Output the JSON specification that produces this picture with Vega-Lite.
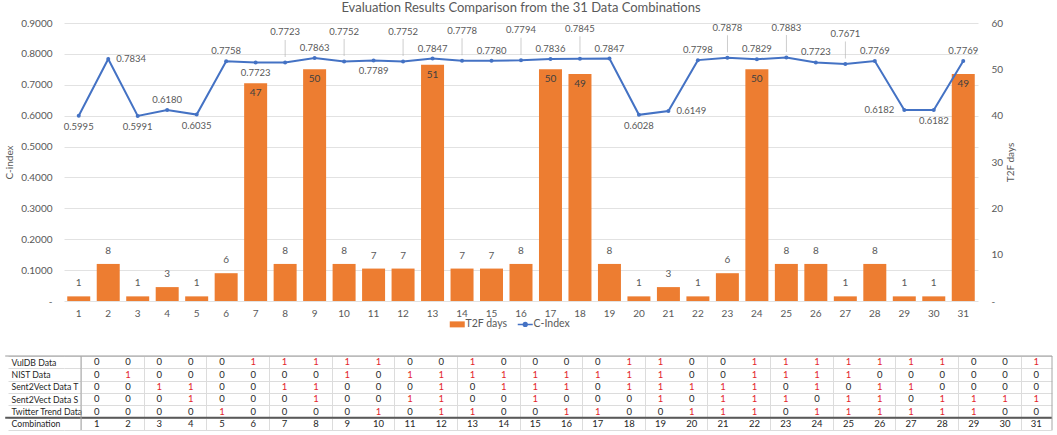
{
  "$schema": "https://vega.github.io/schema/vega-lite/v6.json",
  "padding": {"left": 4, "top": 2, "right": 0, "bottom": 0},
  "background": "white",
  "config": {"font": "Lato", "view": {"stroke": null}},
  "datasets": {
    "main": [
      {"combo": 1, "t2f": 1, "cindex": 0.5995},
      {"combo": 2, "t2f": 8, "cindex": 0.7834},
      {"combo": 3, "t2f": 1, "cindex": 0.5991},
      {"combo": 4, "t2f": 3, "cindex": 0.6180},
      {"combo": 5, "t2f": 1, "cindex": 0.6035},
      {"combo": 6, "t2f": 6, "cindex": 0.7758},
      {"combo": 7, "t2f": 47, "cindex": 0.7723},
      {"combo": 8, "t2f": 8, "cindex": 0.7723},
      {"combo": 9, "t2f": 50, "cindex": 0.7863},
      {"combo": 10, "t2f": 8, "cindex": 0.7752},
      {"combo": 11, "t2f": 7, "cindex": 0.7789},
      {"combo": 12, "t2f": 7, "cindex": 0.7752},
      {"combo": 13, "t2f": 51, "cindex": 0.7847},
      {"combo": 14, "t2f": 7, "cindex": 0.7778},
      {"combo": 15, "t2f": 7, "cindex": 0.7780},
      {"combo": 16, "t2f": 8, "cindex": 0.7794},
      {"combo": 17, "t2f": 50, "cindex": 0.7836},
      {"combo": 18, "t2f": 49, "cindex": 0.7845},
      {"combo": 19, "t2f": 8, "cindex": 0.7847},
      {"combo": 20, "t2f": 1, "cindex": 0.6028},
      {"combo": 21, "t2f": 3, "cindex": 0.6149},
      {"combo": 22, "t2f": 1, "cindex": 0.7798},
      {"combo": 23, "t2f": 6, "cindex": 0.7878},
      {"combo": 24, "t2f": 50, "cindex": 0.7829},
      {"combo": 25, "t2f": 8, "cindex": 0.7883},
      {"combo": 26, "t2f": 8, "cindex": 0.7723},
      {"combo": 27, "t2f": 1, "cindex": 0.7671},
      {"combo": 28, "t2f": 8, "cindex": 0.7769},
      {"combo": 29, "t2f": 1, "cindex": 0.6182},
      {"combo": 30, "t2f": 1, "cindex": 0.6182},
      {"combo": 31, "t2f": 49, "cindex": 0.7769}
    ],
    "table": [
      {"Combination": 1, "VulDB Data": 0, "NIST Data": 0, "Sent2Vect Data T": 0, "Sent2Vect Data S": 0, "Twitter Trend Data": 0},
      {"Combination": 2, "VulDB Data": 0, "NIST Data": 1, "Sent2Vect Data T": 0, "Sent2Vect Data S": 0, "Twitter Trend Data": 0},
      {"Combination": 3, "VulDB Data": 0, "NIST Data": 0, "Sent2Vect Data T": 1, "Sent2Vect Data S": 0, "Twitter Trend Data": 0},
      {"Combination": 4, "VulDB Data": 0, "NIST Data": 0, "Sent2Vect Data T": 1, "Sent2Vect Data S": 1, "Twitter Trend Data": 0},
      {"Combination": 5, "VulDB Data": 0, "NIST Data": 0, "Sent2Vect Data T": 0, "Sent2Vect Data S": 0, "Twitter Trend Data": 1},
      {"Combination": 6, "VulDB Data": 1, "NIST Data": 0, "Sent2Vect Data T": 0, "Sent2Vect Data S": 0, "Twitter Trend Data": 0},
      {"Combination": 7, "VulDB Data": 1, "NIST Data": 0, "Sent2Vect Data T": 1, "Sent2Vect Data S": 0, "Twitter Trend Data": 0},
      {"Combination": 8, "VulDB Data": 1, "NIST Data": 0, "Sent2Vect Data T": 1, "Sent2Vect Data S": 1, "Twitter Trend Data": 0},
      {"Combination": 9, "VulDB Data": 1, "NIST Data": 1, "Sent2Vect Data T": 0, "Sent2Vect Data S": 0, "Twitter Trend Data": 0},
      {"Combination": 10, "VulDB Data": 1, "NIST Data": 0, "Sent2Vect Data T": 0, "Sent2Vect Data S": 0, "Twitter Trend Data": 1},
      {"Combination": 11, "VulDB Data": 0, "NIST Data": 1, "Sent2Vect Data T": 0, "Sent2Vect Data S": 1, "Twitter Trend Data": 0},
      {"Combination": 12, "VulDB Data": 0, "NIST Data": 1, "Sent2Vect Data T": 1, "Sent2Vect Data S": 1, "Twitter Trend Data": 1},
      {"Combination": 13, "VulDB Data": 1, "NIST Data": 1, "Sent2Vect Data T": 0, "Sent2Vect Data S": 0, "Twitter Trend Data": 1},
      {"Combination": 14, "VulDB Data": 0, "NIST Data": 1, "Sent2Vect Data T": 1, "Sent2Vect Data S": 0, "Twitter Trend Data": 0},
      {"Combination": 15, "VulDB Data": 0, "NIST Data": 1, "Sent2Vect Data T": 1, "Sent2Vect Data S": 1, "Twitter Trend Data": 0},
      {"Combination": 16, "VulDB Data": 0, "NIST Data": 1, "Sent2Vect Data T": 1, "Sent2Vect Data S": 0, "Twitter Trend Data": 1},
      {"Combination": 17, "VulDB Data": 0, "NIST Data": 1, "Sent2Vect Data T": 0, "Sent2Vect Data S": 0, "Twitter Trend Data": 1},
      {"Combination": 18, "VulDB Data": 1, "NIST Data": 1, "Sent2Vect Data T": 1, "Sent2Vect Data S": 0, "Twitter Trend Data": 0},
      {"Combination": 19, "VulDB Data": 1, "NIST Data": 1, "Sent2Vect Data T": 1, "Sent2Vect Data S": 1, "Twitter Trend Data": 0},
      {"Combination": 20, "VulDB Data": 0, "NIST Data": 0, "Sent2Vect Data T": 1, "Sent2Vect Data S": 0, "Twitter Trend Data": 1},
      {"Combination": 21, "VulDB Data": 0, "NIST Data": 0, "Sent2Vect Data T": 1, "Sent2Vect Data S": 1, "Twitter Trend Data": 1},
      {"Combination": 22, "VulDB Data": 1, "NIST Data": 1, "Sent2Vect Data T": 1, "Sent2Vect Data S": 1, "Twitter Trend Data": 1},
      {"Combination": 23, "VulDB Data": 1, "NIST Data": 1, "Sent2Vect Data T": 0, "Sent2Vect Data S": 1, "Twitter Trend Data": 0},
      {"Combination": 24, "VulDB Data": 1, "NIST Data": 1, "Sent2Vect Data T": 1, "Sent2Vect Data S": 0, "Twitter Trend Data": 1},
      {"Combination": 25, "VulDB Data": 1, "NIST Data": 1, "Sent2Vect Data T": 0, "Sent2Vect Data S": 1, "Twitter Trend Data": 1},
      {"Combination": 26, "VulDB Data": 1, "NIST Data": 0, "Sent2Vect Data T": 1, "Sent2Vect Data S": 1, "Twitter Trend Data": 1},
      {"Combination": 27, "VulDB Data": 1, "NIST Data": 0, "Sent2Vect Data T": 1, "Sent2Vect Data S": 0, "Twitter Trend Data": 1},
      {"Combination": 28, "VulDB Data": 1, "NIST Data": 0, "Sent2Vect Data T": 0, "Sent2Vect Data S": 1, "Twitter Trend Data": 1},
      {"Combination": 29, "VulDB Data": 0, "NIST Data": 0, "Sent2Vect Data T": 0, "Sent2Vect Data S": 1, "Twitter Trend Data": 1},
      {"Combination": 30, "VulDB Data": 0, "NIST Data": 0, "Sent2Vect Data T": 0, "Sent2Vect Data S": 1, "Twitter Trend Data": 0},
      {"Combination": 31, "VulDB Data": 1, "NIST Data": 0, "Sent2Vect Data T": 0, "Sent2Vect Data S": 1, "Twitter Trend Data": 0}
    ]
  },
  "spacing": 22,
  "resolve": {"scale": {"color": "independent"}, "legend": {"color": "independent"}},
  "vconcat": [
    {
      "width": 914,
      "height": 278,
      "title": {"text": "Evaluation Results Comparison from the 31 Data Combinations", "fontSize": 13, "fontWeight": "normal", "color": "#595959", "offset": 3, "anchor": "middle"},
      "data": {"name": "main"},
      "encoding": {
        "x": {"field": "combo", "type": "ordinal", "scale": {"paddingInner": 0.22, "paddingOuter": 0.11},
          "axis": {"title": null, "labelAngle": 0, "domain": false, "ticks": false, "labelColor": "#595959", "labelFontSize": 10, "labelPadding": 7}}
      },
      "layer": [
        {
          "encoding": {
            "y": {"field": "t2f", "type": "quantitative", "scale": {"domain": [0, 60], "nice": false},
              "axis": {"orient": "right", "title": "T2F days", "titleAngle": 270, "titleFontSize": 10, "titleFontWeight": "normal", "titleColor": "#595959", "titlePadding": 13,
                "values": [0, 10, 20, 30, 40, 50, 60], "labelExpr": "datum.value == 0 ? '-' : datum.label", "labelColor": "#595959", "labelFontSize": 10, "labelPadding": 13, "ticks": false, "domain": false, "grid": false}}
          },
          "layer": [
            {
              "mark": {"type": "bar"},
              "encoding": {
                "color": {"datum": "T2F days", "type": "nominal",
                  "scale": {"domain": ["T2F days", "C-Index"], "range": ["#ED7D31", "#4472C4"]},
                  "legend": {"title": null, "orient": "none", "legendX": 388, "legendY": 296, "padding": 0, "direction": "horizontal", "labelColor": "#595959", "labelFontSize": 10.5, "symbolSize": 225, "columnPadding": 6, "labelOffset": 3,
                    "encode": {"symbols": {"update": {
                      "shape": {"signal": "datum.value === 'C-Index' ? 'M-1,0H1M-0.25,0A0.25,0.25,0,1,1,0.25,0A0.25,0.25,0,1,1,-0.25,0Z' : 'M-1,-0.4H1V0.4H-1Z'"},
                      "fill": {"signal": "datum.value === 'C-Index' ? '#4472C4' : '#ED7D31'"},
                      "stroke": {"signal": "datum.value === 'C-Index' ? '#4472C4' : '#ED7D31'"},
                      "strokeWidth": {"signal": "datum.value === 'C-Index' ? 1.5 : 0"},
                      "opacity": {"value": 1}, "fillOpacity": {"value": 1}, "strokeOpacity": {"value": 1}
                    }}}}}
              }
            },
            {
              "transform": [{"filter": "datum.t2f < 40"}],
              "mark": {"type": "text", "dy": -8, "baseline": "bottom", "fontSize": 10, "fill": "#595959"},
              "encoding": {"text": {"field": "t2f", "type": "quantitative"}}
            },
            {
              "transform": [{"filter": "datum.t2f >= 40"}],
              "mark": {"type": "text", "dy": 5, "baseline": "top", "fontSize": 10, "fill": "#404040"},
              "encoding": {"text": {"field": "t2f", "type": "quantitative"}}
            }
          ]
        },
        {
          "encoding": {
            "y": {"field": "cindex", "type": "quantitative", "scale": {"domain": [0, 0.9], "nice": false},
              "axis": {"orient": "left", "title": "C-index", "titleFontSize": 10, "titleFontWeight": "normal", "titleColor": "#595959", "titlePadding": 6,
                "values": [0, 0.1, 0.2, 0.3, 0.4, 0.5, 0.6, 0.7, 0.8, 0.9], "labelExpr": "datum.value == 0 ? '-' : format(datum.value, '.4f')", "labelColor": "#595959", "labelFontSize": 10, "labelPadding": 12, "ticks": false, "domain": false, "grid": true, "gridColor": "#e2e2e2"}}
          },
          "layer": [
            {
              "mark": {"type": "line", "strokeWidth": 2, "point": {"filled": true, "size": 16}},
              "encoding": {"color": {"datum": "C-Index", "type": "nominal"}}
            },
            {
              "transform": [{"filter": "indexof([4,6,9,13,15,17,19,22,24,26,28,31], datum.combo) >= 0"}],
              "mark": {"type": "text", "dy": -10, "baseline": "middle", "fontSize": 9.5, "fill": "#595959"},
              "encoding": {"text": {"field": "cindex", "type": "quantitative", "format": ".4f"}}
            },
            {
              "transform": [{"filter": "indexof([8,10,12,14,16,18,23,25,27], datum.combo) >= 0"}],
              "mark": {"type": "text", "dy": -30, "baseline": "middle", "fontSize": 9.5, "fill": "#595959"},
              "encoding": {"text": {"field": "cindex", "type": "quantitative", "format": ".4f"}}
            },
            {
              "transform": [{"filter": "indexof([8,10,12,14,16,18,23,25,27], datum.combo) >= 0"}],
              "mark": {"type": "tick", "orient": "vertical", "size": 17, "thickness": 0.8, "yOffset": -14, "color": "#a6a6a6"},
              "encoding": {}
            },
            {
              "transform": [{"filter": "indexof([1,3,5,7,11,20,30], datum.combo) >= 0"}],
              "mark": {"type": "text", "dy": 11, "baseline": "middle", "fontSize": 9.5, "fill": "#595959"},
              "encoding": {"text": {"field": "cindex", "type": "quantitative", "format": ".4f"}}
            },
            {
              "transform": [{"filter": "indexof([2,21], datum.combo) >= 0"}],
              "mark": {"type": "text", "dx": 8, "align": "left", "baseline": "middle", "fontSize": 9.5, "fill": "#595959"},
              "encoding": {"text": {"field": "cindex", "type": "quantitative", "format": ".4f"}}
            },
            {
              "transform": [{"filter": "datum.combo == 29"}],
              "mark": {"type": "text", "dx": -10, "align": "right", "baseline": "middle", "fontSize": 9.5, "fill": "#595959"},
              "encoding": {"text": {"field": "cindex", "type": "quantitative", "format": ".4f"}}
            }
          ]
        }
      ],
      "resolve": {"scale": {"y": "independent"}}
    },
    {
      "width": 988,
      "height": 74,
      "data": {"name": "table"},
      "layer": [
        {
          "transform": [{"fold": ["VulDB Data", "NIST Data", "Sent2Vect Data T", "Sent2Vect Data S", "Twitter Trend Data"], "as": ["row", "val"]}],
          "mark": {"type": "text", "fontSize": 9.5, "baseline": "middle"},
          "encoding": {
            "x": {"field": "Combination", "type": "quantitative", "scale": {"domain": [-0.043, 31.5], "nice": false, "zero": false},
              "axis": {"title": null, "values": [0.5, 1.5, 2.5, 3.5, 4.5, 5.5, 6.5, 7.5, 8.5, 9.5, 10.5, 11.5, 12.5, 13.5, 14.5, 15.5, 16.5, 17.5, 18.5, 19.5, 20.5, 21.5, 22.5, 23.5, 24.5, 25.5, 26.5, 27.5, 28.5, 29.5, 30.5, 31.5], "grid": true, "gridColor": "#dcdcdc", "labels": false, "ticks": false, "domain": false}},
            "y": {"field": "row", "type": "nominal", "scale": {"domain": ["VulDB Data", "NIST Data", "Sent2Vect Data T", "Sent2Vect Data S", "Twitter Trend Data", "Combination"], "paddingInner": 0, "paddingOuter": 0},
              "axis": {"title": null, "grid": true, "tickBand": "extent", "gridColor": "#dcdcdc", "domain": false,
                "ticks": true, "tickSize": 56, "tickColor": "#dcdcdc",
                "labelAlign": "left", "labelPadding": -3, "labelFontSize": 8.7, "labelColor": "#262626", "labelFont": "Lato"}},
            "text": {"field": "val", "type": "quantitative"},
            "color": {"condition": {"test": "datum.val == 1", "value": "#e3262c"}, "value": "#262626"}
          }
        },
        {
          "mark": {"type": "text", "fontSize": 9.5, "baseline": "middle", "fill": "#262626"},
          "encoding": {
            "x": {"field": "Combination", "type": "quantitative"},
            "y": {"datum": "Combination"},
            "text": {"field": "Combination", "type": "quantitative"}
          }
        },
        {
          "data": {"values": [{}]},
          "mark": {"type": "rule", "color": "#9a9a9a", "strokeWidth": 1},
          "encoding": {"y": {"datum": "VulDB Data", "bandPosition": 0}, "x": {"datum": -1.92}, "x2": {"datum": 31.5}}
        },
        {
          "data": {"values": [{}]},
          "mark": {"type": "rule", "color": "#595959", "strokeWidth": 2},
          "encoding": {"y": {"datum": "Combination", "bandPosition": 0}, "x": {"datum": -1.92}, "x2": {"datum": 31.5}}
        },
        {
          "data": {"values": [{"p": 0.5}, {"p": 31.5}]},
          "mark": {"type": "rule", "color": "#a6a6a6", "strokeWidth": 1},
          "encoding": {"x": {"field": "p", "type": "quantitative"}}
        }
      ]
    }
  ]
}
